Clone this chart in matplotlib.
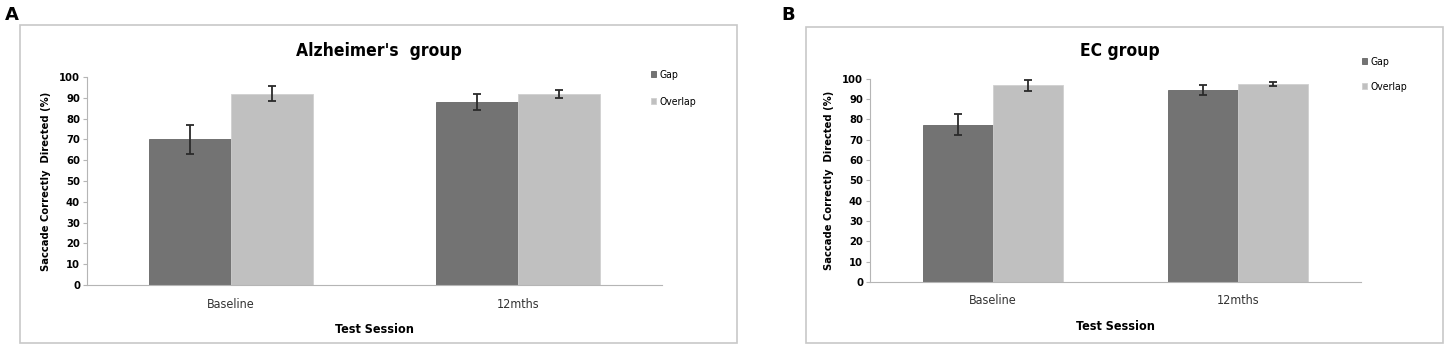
import matplotlib
matplotlib.use("Agg")
import matplotlib.pyplot as plt
import matplotlib.patches as mpatches
import numpy as np

plt.rcParams["font.family"] = ["DejaVu Sans"]
plt.rcParams["font.stretch"] = "condensed"

sessions = ["Baseline", "12mths"]
series = ["Gap", "Overlap"]
colors = ["#737373", "#c0c0c0"]

# Alzheimer's group
ad_gap = [70, 88]
ad_gap_err = [6.8, 3.7]
ad_overlap = [92, 91.7]
ad_overlap_err = [3.5, 2.0]

# EC group
ec_gap = [77.3, 94.4]
ec_gap_err = [5.2, 2.4]
ec_overlap = [96.7, 97.4]
ec_overlap_err = [2.6, 1.2]

W, H = 1446, 349
fig = plt.figure(figsize=(W / 100, H / 100), dpi=100)


def px(x0, y0, x1, y1):
    # pixel box (top-left origin) -> figure fraction rect
    return [x0 / W, 1 - y1 / H, (x1 - x0) / W, (y1 - y0) / H]


def panel(rect, frame, title, title_y, gap, gap_err, ov, ov_err, letter, legend_xy, leg_gap):
    # outer frame
    r = px(*frame)
    fig.patches.append(mpatches.Rectangle((r[0], r[1]), r[2], r[3], transform=fig.transFigure,
                                          fill=False, edgecolor="#c8c8c8", lw=1.2))
    fig.text(letter[0] / W, 1 - letter[1] / H, letter[2], fontsize=13, fontweight="bold",
             fontstretch="normal", ha="center", va="center")

    ax = fig.add_axes(px(*rect))
    x = np.arange(len(sessions))
    w = 0.285
    ax.bar(x - w / 2, gap, w, color=colors[0], edgecolor="#666666", lw=0.6, label=series[0])
    ax.bar(x + w / 2, ov, w, color=colors[1], edgecolor="#d0d0d0", lw=0.6, label=series[1])
    ax.errorbar(x - w / 2, gap, yerr=gap_err, fmt="none", ecolor="#2a2a2a", elinewidth=1.3,
                capsize=3, capthick=1.3)
    ax.errorbar(x + w / 2, ov, yerr=ov_err, fmt="none", ecolor="#2a2a2a", elinewidth=1.3,
                capsize=3, capthick=1.3)
    ax.set_xlim(-0.5, 1.5)
    ax.set_ylim(0, 100)
    ax.set_yticks(range(0, 101, 10))
    ax.set_xticks(x)
    ax.set_xticklabels(sessions, fontsize=9, color="#333333")
    for t in ax.get_yticklabels():
        t.set_fontsize(8)
        t.set_fontweight("bold")
    for s in ["top", "right"]:
        ax.spines[s].set_visible(False)
    ax.spines["left"].set_color("#b5b5b5")
    ax.spines["bottom"].set_color("#b5b5b5")
    ax.tick_params(axis="y", length=3, color="#b5b5b5", pad=2)
    ax.tick_params(axis="x", length=0, pad=9)
    ax.set_ylabel("Saccade Correctly  Directed (%)", fontsize=8, fontweight="bold", labelpad=6)
    ax.set_xlabel("Test Session", fontsize=9, fontweight="bold", labelpad=9)

    fig.text((rect[0] + rect[2]) / 2 / W + 0.003, 1 - title_y / H, title, fontsize=12.5,
             fontweight="bold", ha="center", va="center")

    ax.legend(loc="upper left", bbox_to_anchor=(legend_xy[0] / W, 1 - legend_xy[1] / H),
              bbox_transform=fig.transFigure, frameon=False, fontsize=7.5,
              handlelength=0.5, handleheight=0.5, handletextpad=0.3, labelspacing=leg_gap,
              borderpad=0, borderaxespad=0)
    return ax


panel((87, 77, 662, 285), (20, 25, 737, 343), "Alzheimer's  group", 51,
      ad_gap, ad_gap_err, ad_overlap, ad_overlap_err, (12, 15, "A"), (651, 70), 1.6)
panel((870, 78.7, 1361, 282), (806, 27, 1443, 343), "EC group", 51,
      ec_gap, ec_gap_err, ec_overlap, ec_overlap_err, (788, 15, "B"), (1362, 57), 1.4)

fig.savefig("out.png", dpi=100)
